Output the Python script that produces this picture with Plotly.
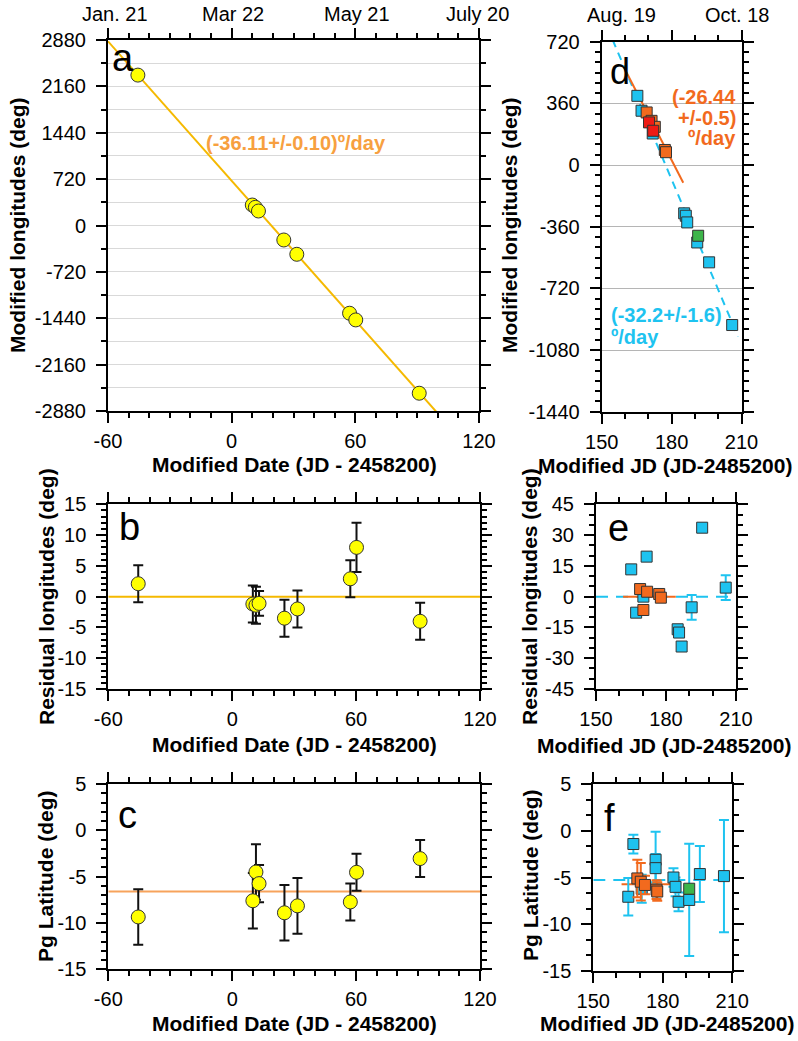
import plotly.graph_objects as go

# ---------------- data ----------------
# Left panels (a, b, c): Modified Date (JD - 2458200)
date_ac = [-45.5, 10.0, 11.5, 13.0, 25.3, 31.6, 57.2, 60.2, 91.0]
lon_a = [2335, 318, 282, 225, -225, -447, -1362, -1466, -2604]
fit_a_slope = -36.11
fit_a_icpt = 693
resid_b = [2.1, -1.2, -1.4, -1.1, -3.5, -2.0, 2.9, 8.0, -4.0]
resid_b_err = [3, 3, 3, 2, 3, 3, 3, 4, 3]
lat_c = [-9.35, -7.6, -4.5, -5.75, -8.9, -8.15, -7.73, -4.53, -3.05]
lat_c_err = [3, 3, 3, 2, 3, 3, 2, 2, 2]
lat_c_mean = -6.6

# Right panels (d, e, f): Modified JD
d_cyan_x = [165.3, 167.1, 171.9, 185.4, 186.1, 186.7, 191.0, 196.1, 206.0]
d_cyan_y = [404, 317, 184, -282, -296, -335, -452, -568, -934]
d_orange_x = [169.3, 171.4, 172.8, 177.1, 177.6]
d_orange_y = [307, 258, 223, 88, 75]
d_red_x = [170.3, 172.1]
d_red_y = [249, 200]
d_green_x = [191.4]
d_green_y = [-413]
fit_orange_slope = -26.44
fit_orange_x0 = 181.1
fit_orange_range = [160, 185]
fit_cyan_slope = -32.2
fit_cyan_x0 = 177.4
fit_cyan_range = [150, 208.5]

e_cyan_x = [165.1, 167.2, 170.3, 171.7, 185.0, 185.6, 186.7, 191.0, 195.5, 205.6]
e_cyan_y = [13.3, -7.8, 0.0, 19.5, -15.9, -17.5, -24.3, -5.2, 33.6, 4.4]
e_cyan_err = [0, 0, 0, 0, 0, 0, 0, 6, 2, 6]
e_orange_x = [168.9, 170.3, 171.9, 177.1, 177.8]
e_orange_y = [3.7, -6.5, 2.4, 1.3, -0.5]

f_cyan_x = [165.1, 167.3, 170.9, 176.9, 176.9, 184.6, 185.5, 186.8, 191.4, 196.0, 206.4]
f_cyan_y = [-7.06, -1.42, -6.2, -3.1, -4.0, -5.0, -6.0, -7.6, -7.4, -4.63, -4.85]
f_cyan_err = [2, 1, 1.5, 3, 1.5, 1, 1, 1, 6, 3, 6]
f_orange_x = [169.0, 170.5, 172.3, 177.3, 177.6]
f_orange_y = [-5.1, -5.45, -5.8, -6.3, -6.5]
f_orange_err = [2, 2, 1, 1, 1]
f_green_x = [191.4]
f_green_y = [-6.2]
f_cyan_mean = -5.27
f_orange_mean = -5.73
f_orange_mean_range = [162.2, 185.3]

# tick values
ticks_date = [-60, 0, 60, 120]
ticks_lon_a = [-2880, -2160, -1440, -720, 0, 720, 1440, 2160, 2880]
ticks_resid_b = [-15, -10, -5, 0, 5, 10, 15]
ticks_lat = [-15, -10, -5, 0, 5]
ticks_jd = [150, 180, 210]
ticks_lon_d = [-1440, -1080, -720, -360, 0, 360, 720]
ticks_resid_e = [-45, -30, -15, 0, 15, 30, 45]

top_left_labels = ["Jan. 21", "Mar 22", "May 21", "July 20"]
top_right_labels = ["Aug. 19", "Oct. 18"]

# ---------------- styles ----------------
W, H = 798, 1041
FONT = "Liberation Sans, Arial, sans-serif"
YELLOW = "#ffff00"
CYAN = "#1ec3f0"
ORANGE = "#f26a1e"
RED = "#ee1b14"
GREEN = "#3db54a"
GOLD = "#f5b900"
SLOPE_A = "#f7a040"
LAT_LINE = "#f7a35c"

fig = go.Figure()


def fx_(a):
    return a / W


def fy_(a):
    return 1 - a / H


def px_x(a, b):
    return [fx_(a), fx_(b)]


def px_y(top, bottom):
    return [fy_(bottom), fy_(top)]


def axis(domain, rng, tickvals, minor_dtick, anchor, grid=False, minor_grid=False,
         gridcolor="#d9d9d9", standoff=6):
    return dict(domain=domain, range=rng, anchor=anchor, automargin=False,
                showline=True, linecolor="black", linewidth=2, mirror="allticks",
                ticks="outside", ticklen=10, tickwidth=1.5, tickcolor="black",
                zeroline=False, showgrid=grid, gridcolor=gridcolor, gridwidth=1,
                tickfont=dict(family=FONT, size=20, color="black"),
                ticklabelstandoff=standoff,
                tickmode="array", tickvals=tickvals, ticktext=[str(v) for v in tickvals],
                minor=dict(ticks="outside", ticklen=5, tickwidth=1.5, tickcolor="black",
                           dtick=minor_dtick, tick0=0, showgrid=minor_grid,
                           gridcolor=gridcolor, gridwidth=1.2))


layout = dict(width=W, height=H, margin=dict(l=0, r=0, t=0, b=0, autoexpand=False),
              plot_bgcolor="white", paper_bgcolor="white", showlegend=False,
              font=dict(family=FONT, color="black"))

XS = 1  # x tick label standoff
# panel a
layout["xaxis"] = axis(px_x(108, 479), [-60, 120], ticks_date, 10, "y", standoff=XS)
layout["yaxis"] = axis(px_y(40, 411), [-2880, 2880], ticks_lon_a, 360, "x", minor_grid=True)
# panel b
layout["xaxis2"] = axis(px_x(108.3, 480), [-60, 120], ticks_date, 10, "y2", standoff=XS)
layout["yaxis2"] = axis(px_y(504.3, 689), [-15, 15], ticks_resid_b, 1, "x2")
# panel c
layout["xaxis3"] = axis(px_x(108.3, 480), [-60, 120], ticks_date, 10, "y3", standoff=XS)
layout["yaxis3"] = axis(px_y(784, 969.3), [-15, 5], ticks_lat, 1, "x3")
# panel d
layout["xaxis4"] = axis(px_x(601.7, 741.5), [150, 210], ticks_jd, 10, "y4", standoff=XS)
layout["yaxis4"] = axis(px_y(41.7, 411.7), [-1440, 720], ticks_lon_d, 60, "x4", grid=True,
                        gridcolor="#b5b5b5")
# panel e
layout["xaxis5"] = axis(px_x(596, 736), [150, 210], ticks_jd, 10, "y5", standoff=XS)
layout["yaxis5"] = axis(px_y(504.3, 689), [-45, 45], ticks_resid_e, 5, "x5")
# panel f
layout["xaxis6"] = axis(px_x(593.3, 732.3), [150, 210], ticks_jd, 10, "y6", standoff=XS)
layout["yaxis6"] = axis(px_y(784, 971), [-15, 5], ticks_lat, 5 / 3, "x6")

mk_circle = dict(symbol="circle", size=14, color=YELLOW, line=dict(color="#333333", width=1))


def sq(color, size=11):
    return dict(symbol="square", size=size, color=color, line=dict(color="#333333", width=1))


# ---- panel a ----
fxr = [-60, 120]
fig.add_trace(go.Scatter(x=fxr, y=[fit_a_icpt + fit_a_slope * v for v in fxr], mode="lines",
                         line=dict(color=GOLD, width=2), xaxis="x", yaxis="y"))
fig.add_trace(go.Scatter(x=date_ac, y=lon_a, mode="markers", marker=mk_circle,
                         xaxis="x", yaxis="y"))

# ---- panel b ----
fig.add_trace(go.Scatter(x=[-60, 120], y=[0, 0], mode="lines",
                         line=dict(color=GOLD, width=2), xaxis="x2", yaxis="y2"))
fig.add_trace(go.Scatter(x=date_ac, y=resid_b, mode="markers", marker=mk_circle,
                         error_y=dict(type="data", array=resid_b_err, color="#111111",
                                      thickness=2, width=5),
                         xaxis="x2", yaxis="y2"))

# ---- panel c ----
fig.add_trace(go.Scatter(x=[-60, 120], y=[lat_c_mean, lat_c_mean], mode="lines",
                         line=dict(color=LAT_LINE, width=2), xaxis="x3", yaxis="y3"))
fig.add_trace(go.Scatter(x=date_ac, y=lat_c, mode="markers", marker=mk_circle,
                         error_y=dict(type="data", array=lat_c_err, color="#111111",
                                      thickness=2, width=5),
                         xaxis="x3", yaxis="y3"))

# ---- panel d ----
cx = fit_cyan_range
fig.add_trace(go.Scatter(x=cx, y=[fit_cyan_slope * (v - fit_cyan_x0) for v in cx], mode="lines",
                         line=dict(color=CYAN, width=2, dash="8px,6px"), xaxis="x4", yaxis="y4"))
ox = fit_orange_range
fig.add_trace(go.Scatter(x=ox, y=[fit_orange_slope * (v - fit_orange_x0) for v in ox], mode="lines",
                         line=dict(color=ORANGE, width=2), xaxis="x4", yaxis="y4"))
fig.add_trace(go.Scatter(x=d_cyan_x, y=d_cyan_y, mode="markers", marker=sq(CYAN),
                         xaxis="x4", yaxis="y4"))
fig.add_trace(go.Scatter(x=d_orange_x, y=d_orange_y, mode="markers", marker=sq(ORANGE),
                         xaxis="x4", yaxis="y4"))
fig.add_trace(go.Scatter(x=d_red_x, y=d_red_y, mode="markers", marker=sq(RED),
                         xaxis="x4", yaxis="y4"))
fig.add_trace(go.Scatter(x=d_green_x, y=d_green_y, mode="markers", marker=sq(GREEN),
                         xaxis="x4", yaxis="y4"))

# ---- panel e ----
fig.add_trace(go.Scatter(x=[150, 210], y=[0, 0], mode="lines",
                         line=dict(color=CYAN, width=2, dash="12px,8px"), xaxis="x5", yaxis="y5"))
fig.add_trace(go.Scatter(x=[161.6, 184.2], y=[0, 0], mode="lines",
                         line=dict(color=ORANGE, width=2), xaxis="x5", yaxis="y5"))
fig.add_trace(go.Scatter(x=e_cyan_x, y=e_cyan_y, mode="markers", marker=sq(CYAN),
                         error_y=dict(type="data", array=e_cyan_err, color=CYAN,
                                      thickness=2, width=5),
                         xaxis="x5", yaxis="y5"))
fig.add_trace(go.Scatter(x=e_orange_x, y=e_orange_y, mode="markers", marker=sq(ORANGE),
                         xaxis="x5", yaxis="y5"))

# ---- panel f ----
fig.add_trace(go.Scatter(x=[150, 208], y=[f_cyan_mean, f_cyan_mean], mode="lines",
                         line=dict(color=CYAN, width=2, dash="12px,8px"), xaxis="x6", yaxis="y6"))
fig.add_trace(go.Scatter(x=f_orange_mean_range, y=[f_orange_mean, f_orange_mean], mode="lines",
                         line=dict(color=ORANGE, width=2), xaxis="x6", yaxis="y6"))
fig.add_trace(go.Scatter(x=f_cyan_x, y=f_cyan_y, mode="markers", marker=sq(CYAN),
                         error_y=dict(type="data", array=f_cyan_err, color=CYAN,
                                      thickness=2, width=5),
                         xaxis="x6", yaxis="y6"))
fig.add_trace(go.Scatter(x=f_orange_x, y=f_orange_y, mode="markers", marker=sq(ORANGE),
                         error_y=dict(type="data", array=f_orange_err, color=ORANGE,
                                      thickness=2, width=5),
                         xaxis="x6", yaxis="y6"))
fig.add_trace(go.Scatter(x=f_green_x, y=f_green_y, mode="markers", marker=sq(GREEN),
                         xaxis="x6", yaxis="y6"))

# ---------------- annotations ----------------
ann = []


def note(text, x, y, size=20, color="black", xanchor="center", angle=0, bold=False):
    t = f"<b>{text}</b>" if bold else text
    ann.append(dict(text=t, x=fx_(x), y=fy_(y), xref="paper", yref="paper", showarrow=False,
                    xanchor=xanchor, yanchor="middle", textangle=angle,
                    font=dict(family=FONT, size=size, color=color)))


# panel letters
note("a", 123, 58, size=38)
note("b", 129, 527, size=38)
note("c", 127, 815, size=38)
note("d", 620, 72, size=36)
note("e", 618, 528, size=38)
note("f", 609, 818, size=38)

# top date labels
for lab, xp in zip(top_left_labels, [115, 233, 357, 477]):
    note(lab, xp, 14, size=20)
for lab, xp in zip(top_right_labels, [621, 737]):
    note(lab, xp, 15, size=20)

# slopes
note("(-36.11+/-0.10)º/day", 296, 143, size=20, color=SLOPE_A, bold=True)
note("(-26.44", 738, 97, size=20, color=ORANGE, bold=True, xanchor="right")
note("+/-0.5)", 738, 118, size=20, color=ORANGE, bold=True, xanchor="right")
note("º/day", 738, 138, size=20, color=ORANGE, bold=True, xanchor="right")
note("(-32.2+/-1.6)", 609, 315, size=20, color=CYAN, bold=True, xanchor="left")
note("º/day", 609, 337, size=20, color=CYAN, bold=True, xanchor="left")

# axis titles
note("Modified Date (JD - 2458200)", 294, 464, size=21, bold=True)
note("Modified Date (JD - 2458200)", 294, 744, size=21, bold=True)
note("Modified Date (JD - 2458200)", 294, 1023, size=21, bold=True)
note("Modified JD (JD-2485200)", 665, 465, size=21, bold=True)
note("Modified JD (JD-2485200)", 664, 745, size=21, bold=True)
note("Modified JD (JD-2485200)", 667, 1023, size=21, bold=True)
note("Modified longitudes (deg)", 18, 226, size=21, bold=True, angle=-90)
note("Residual longitudes (deg)", 46, 597, size=21, bold=True, angle=-90)
note("Pg Latitude (deg)", 45, 876, size=21, bold=True, angle=-90)
note("Modified longitudes (deg)", 510, 226, size=21, bold=True, angle=-90)
note("Residual longitudes (deg)", 529, 597, size=21, bold=True, angle=-90)
note("Pg Latitude (deg)", 530, 875, size=21, bold=True, angle=-90)

layout["annotations"] = ann
fig.update_layout(**layout)
fig.write_html("out.html", config={"displayModeBar": False},
               post_script="document.body.style.margin='0px';document.body.style.overflow='hidden';")
